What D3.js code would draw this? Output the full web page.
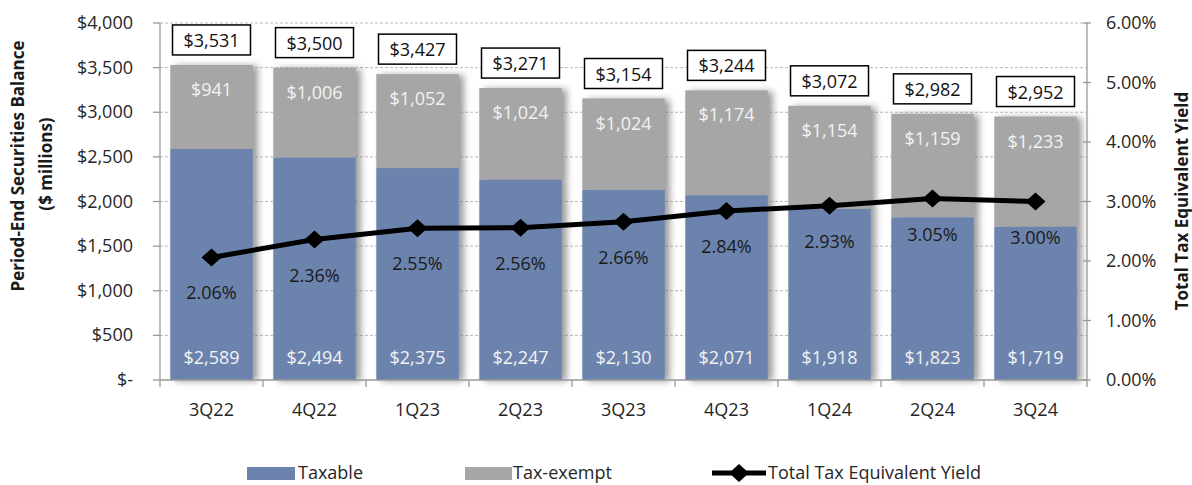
<!doctype html>
<html lang="en">
  <head>
    <meta charset="utf-8">
    <script src="https://d3js.org/d3.v7.min.js"></script>
    <title>Securities Balance</title>
    <style>
      body { margin: 0; background: #fff; }
      text { font-family: "Open Sans", Lato, sans-serif; }
      .tick-label { font-size: 18px; fill: #262626; }
      .title { font-size: 17px; font-weight: bold; fill: #1a1a1a; }
    </style>
  </head>
  <body>
    <svg width="1192" height="485"></svg>
    <script>
      // chart data
      const categories = ["3Q22", "4Q22", "1Q23", "2Q23", "3Q23", "4Q23", "1Q24", "2Q24", "3Q24"];
      const taxable = [2589, 2494, 2375, 2247, 2130, 2071, 1918, 1823, 1719];
      const taxExempt = [941, 1006, 1052, 1024, 1024, 1174, 1154, 1159, 1233];
      const totals = [3531, 3500, 3427, 3271, 3154, 3244, 3072, 2982, 2952];
      const yields = [2.06, 2.36, 2.55, 2.56, 2.66, 2.84, 2.93, 3.05, 3.00];
      const leftTicks = [0, 500, 1000, 1500, 2000, 2500, 3000, 3500, 4000];
      const rightTicks = [0, 1, 2, 3, 4, 5, 6];

      const blue = "#6c84ad";
      const grey = "#a6a6a6";

      const svg = d3.select("svg");
      const plotL = 160, plotR = 1087, plotT = 23, plotB = 380;

      const x = d3.scaleBand().domain(categories).range([plotL, plotR])
        .paddingInner(0.2).paddingOuter(0.1);
      const y = d3.scaleLinear().domain([0, 4000]).range([plotB, plotT]);
      const y2 = d3.scaleLinear().domain([0, 6]).range([plotB, plotT]);

      const defs = svg.append("defs");
      const f = defs.append("filter").attr("id", "shadow")
        .attr("x", "-10%").attr("y", "-10%").attr("width", "130%").attr("height", "120%");
      f.append("feDropShadow").attr("dx", 5).attr("dy", 1).attr("stdDeviation", 3.5)
        .attr("flood-color", "#777").attr("flood-opacity", 0.75);

      // gridlines
      svg.append("g").selectAll("line").data(leftTicks.slice(1)).enter().append("line")
        .attr("x1", plotL).attr("x2", plotR)
        .attr("y1", d => y(d)).attr("y2", d => y(d))
        .attr("stroke", "#b8b8b8").attr("stroke-dasharray", "3,2").attr("stroke-width", 1);

      const rows = categories.map((c, i) => ({ c, tx: taxable[i], ex: taxExempt[i], total: totals[i], yl: yields[i] }));

      // stacked bars
      const bars = svg.append("g").selectAll("g").data(rows).enter().append("g")
        .attr("filter", "url(#shadow)");
      bars.append("rect")
        .attr("x", d => x(d.c)).attr("width", x.bandwidth())
        .attr("y", d => y(d.tx)).attr("height", d => y(0) - y(d.tx))
        .attr("fill", blue);
      bars.append("rect")
        .attr("x", d => x(d.c)).attr("width", x.bandwidth())
        .attr("y", d => y(d.tx + d.ex)).attr("height", d => y(d.tx) - y(d.tx + d.ex))
        .attr("fill", grey);

      const fmt = d => "$" + d3.format(",")(d);

      // segment labels
      svg.append("g").selectAll("text").data(rows).enter().append("text")
        .attr("x", d => x(d.c) + x.bandwidth() / 2)
        .attr("y", d => y(d.tx + d.ex) + 31)
        .attr("text-anchor", "middle").attr("font-size", 18).attr("fill", "#f2f2f2")
        .text(d => fmt(d.ex));
      svg.append("g").selectAll("text").data(rows).enter().append("text")
        .attr("x", d => x(d.c) + x.bandwidth() / 2)
        .attr("y", y(0) - 16)
        .attr("text-anchor", "middle").attr("font-size", 18).attr("fill", "#f2f2f2")
        .text(d => fmt(d.tx));

      // total boxes
      const boxes = svg.append("g").selectAll("g").data(rows).enter().append("g")
        .attr("transform", d => `translate(${x(d.c) + x.bandwidth() / 2},${y(d.tx + d.ex) - 10})`);
      boxes.append("rect")
        .attr("x", -39).attr("y", -30).attr("width", 78).attr("height", 30)
        .attr("fill", "#fff").attr("stroke", "#000").attr("stroke-width", 1.5);
      boxes.append("text")
        .attr("y", -8).attr("text-anchor", "middle").attr("font-size", 18).attr("fill", "#111")
        .text(d => fmt(d.total));

      // axes lines
      const ax = svg.append("g").attr("stroke", "#999").attr("stroke-width", 1.3);
      ax.append("line").attr("x1", plotL).attr("x2", plotL).attr("y1", plotT).attr("y2", plotB);
      ax.append("line").attr("x1", plotR).attr("x2", plotR).attr("y1", plotT).attr("y2", plotB);
      ax.append("line").attr("x1", plotL).attr("x2", plotR).attr("y1", plotB).attr("y2", plotB);
      ax.selectAll(".lt").data(leftTicks).enter().append("line")
        .attr("x1", plotL - 7).attr("x2", plotL).attr("y1", d => y(d)).attr("y2", d => y(d));
      ax.selectAll(".rt").data(rightTicks).enter().append("line")
        .attr("x1", plotR - 4).attr("x2", plotR + 4).attr("y1", d => y2(d)).attr("y2", d => y2(d));
      const step = x.step();
      ax.selectAll(".bt").data(d3.range(categories.length + 1)).enter().append("line")
        .attr("x1", i => plotL + i * step).attr("x2", i => plotL + i * step)
        .attr("y1", plotB).attr("y2", plotB + 7);

      // tick labels
      svg.append("g").selectAll("text").data(leftTicks).enter().append("text")
        .attr("class", "tick-label").attr("x", 133).attr("y", d => y(d) + 6)
        .attr("text-anchor", "end")
        .text(d => d === 0 ? "$-" : fmt(d));
      svg.append("g").selectAll("text").data(rightTicks).enter().append("text")
        .attr("class", "tick-label").attr("x", 1106).attr("y", d => y2(d) + 6)
        .text(d => d.toFixed(2) + "%");
      svg.append("g").selectAll("text").data(categories).enter().append("text")
        .attr("class", "tick-label").attr("x", d => x(d) + x.bandwidth() / 2).attr("y", 416)
        .attr("text-anchor", "middle")
        .text(d => d);

      // yield line
      const diamond = "M-10,0L0,-9L10,0L0,9Z";
      const line = d3.line().x(d => x(d.c) + x.bandwidth() / 2).y(d => y2(d.yl));
      svg.append("path").datum(rows).attr("d", line)
        .attr("fill", "none").attr("stroke", "#000").attr("stroke-width", 5);
      svg.append("g").selectAll("path").data(rows).enter().append("path")
        .attr("d", diamond)
        .attr("transform", d => `translate(${x(d.c) + x.bandwidth() / 2},${y2(d.yl)})`)
        .attr("fill", "#000");
      svg.append("g").selectAll("text").data(rows).enter().append("text")
        .attr("x", d => x(d.c) + x.bandwidth() / 2).attr("y", d => y2(d.yl) + 42)
        .attr("text-anchor", "middle").attr("font-size", 18).attr("fill", "#1a1a1a")
        .text(d => d.yl.toFixed(2) + "%");

      // axis titles
      svg.append("text").attr("class", "title")
        .attr("transform", "translate(24,166) rotate(-90)").attr("text-anchor", "middle")
        .text("Period-End Securities Balance");
      svg.append("text").attr("class", "title")
        .attr("transform", "translate(52,164) rotate(-90)").attr("text-anchor", "middle")
        .text("($ millions)");
      svg.append("text").attr("class", "title")
        .attr("transform", "translate(1188,201) rotate(-90)").attr("text-anchor", "middle")
        .text("Total Tax Equivalent Yield");

      // legend
      const lg = svg.append("g");
      lg.append("rect").attr("x", 247).attr("y", 467).attr("width", 48).attr("height", 13).attr("fill", blue);
      lg.append("text").attr("x", 298).attr("y", 479).attr("font-size", 18).attr("fill", "#262626").text("Taxable");
      lg.append("rect").attr("x", 465).attr("y", 467).attr("width", 47).attr("height", 13).attr("fill", grey);
      lg.append("text").attr("x", 513).attr("y", 479).attr("font-size", 18).attr("fill", "#262626").text("Tax-exempt");
      lg.append("line").attr("x1", 712).attr("x2", 766).attr("y1", 473).attr("y2", 473)
        .attr("stroke", "#000").attr("stroke-width", 5);
      lg.append("path").attr("d", diamond).attr("transform", "translate(739,473)").attr("fill", "#000");
      lg.append("text").attr("x", 768).attr("y", 479).attr("font-size", 18).attr("fill", "#262626").text("Total Tax Equivalent Yield");
    </script>
  </body>
</html>
